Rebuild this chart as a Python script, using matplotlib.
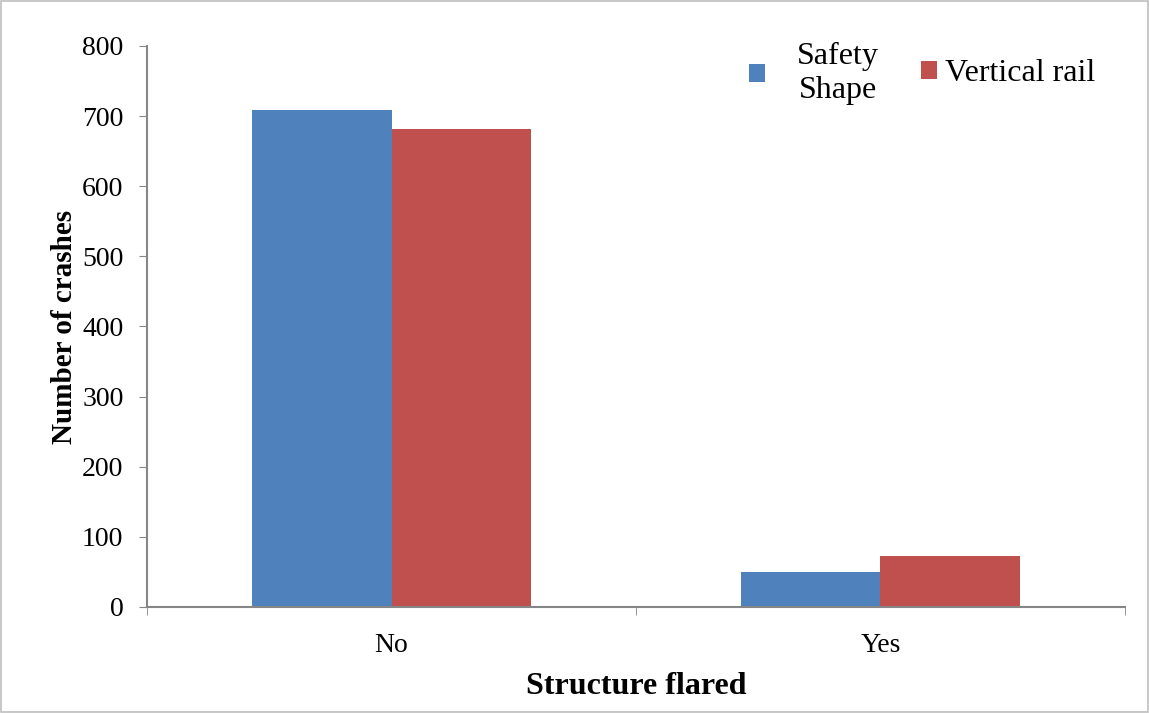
import numpy as np
import matplotlib.pyplot as plt
from matplotlib.patches import Rectangle

# данные
categories = ['No', 'Yes']
safety_shape = [709, 50]
vertical_rail = [682, 73]
series_names = ['Safety\nShape', 'Vertical rail']
y_ticks = [0, 100, 200, 300, 400, 500, 600, 700, 800]

plt.rcParams['font.family'] = ['Liberation Serif', 'DejaVu Serif']

fig = plt.figure(figsize=(11.49, 7.13), dpi=100)
ax = fig.add_axes([0.128, 0.1487, 0.851, 0.7868])

x = np.arange(len(categories))
w = 0.286
b1 = ax.bar(x - w / 2, safety_shape, w, color='#4F81BD')
b2 = ax.bar(x + w / 2, vertical_rail, w, color='#C0504D')

ax.set_xlim(-0.5, len(categories) - 0.5)
ax.set_ylim(0, 800)
ax.set_yticks(y_ticks)
ax.tick_params(axis='y', labelsize=20, length=6, color='#868686', pad=11)

# подписи категорий по центру, штрихи на границах категорий
ax.set_xticks(x)
ax.set_xticklabels(categories)
ax.set_xticks(np.arange(-0.5, len(categories)), minor=True)
ax.tick_params(axis='x', which='major', length=0, labelsize=20, pad=19)
ax.tick_params(axis='x', which='minor', length=6, color='#868686')

for side in ['top', 'right']:
    ax.spines[side].set_visible(False)
for side in ['left', 'bottom']:
    ax.spines[side].set_color('#868686')
    ax.spines[side].set_linewidth(1.5)

ax.set_xlabel('Structure flared', fontsize=23, fontweight='bold', labelpad=10)
ax.set_ylabel('Number of crashes', fontsize=21, fontweight='bold', labelpad=3)

# легенда как в Excel: две отдельные записи, текст по центру
leg1 = ax.legend([b1], [series_names[0]], loc='center left', bbox_to_anchor=(0.6155, 0.951),
                 frameon=False, fontsize=23, handlelength=0.5, handleheight=0.5,
                 handletextpad=1.0, borderpad=0, borderaxespad=0)
for t in leg1.get_texts():
    t.set_multialignment('center')
    t.set_linespacing(1.2)
ax.add_artist(leg1)
ax.legend([b2], [series_names[1]], loc='center left', bbox_to_anchor=(0.7914, 0.951),
          frameon=False, fontsize=23, handlelength=0.5, handleheight=0.5,
          handletextpad=0.25, borderpad=0, borderaxespad=0)

# рамка вокруг всей картинки
fig.patches.append(Rectangle((0.001, 0.001), 0.998, 0.998, transform=fig.transFigure,
                             fill=False, edgecolor='#BFBFBF', linewidth=1.2))

fig.savefig('out.png', dpi=100)
